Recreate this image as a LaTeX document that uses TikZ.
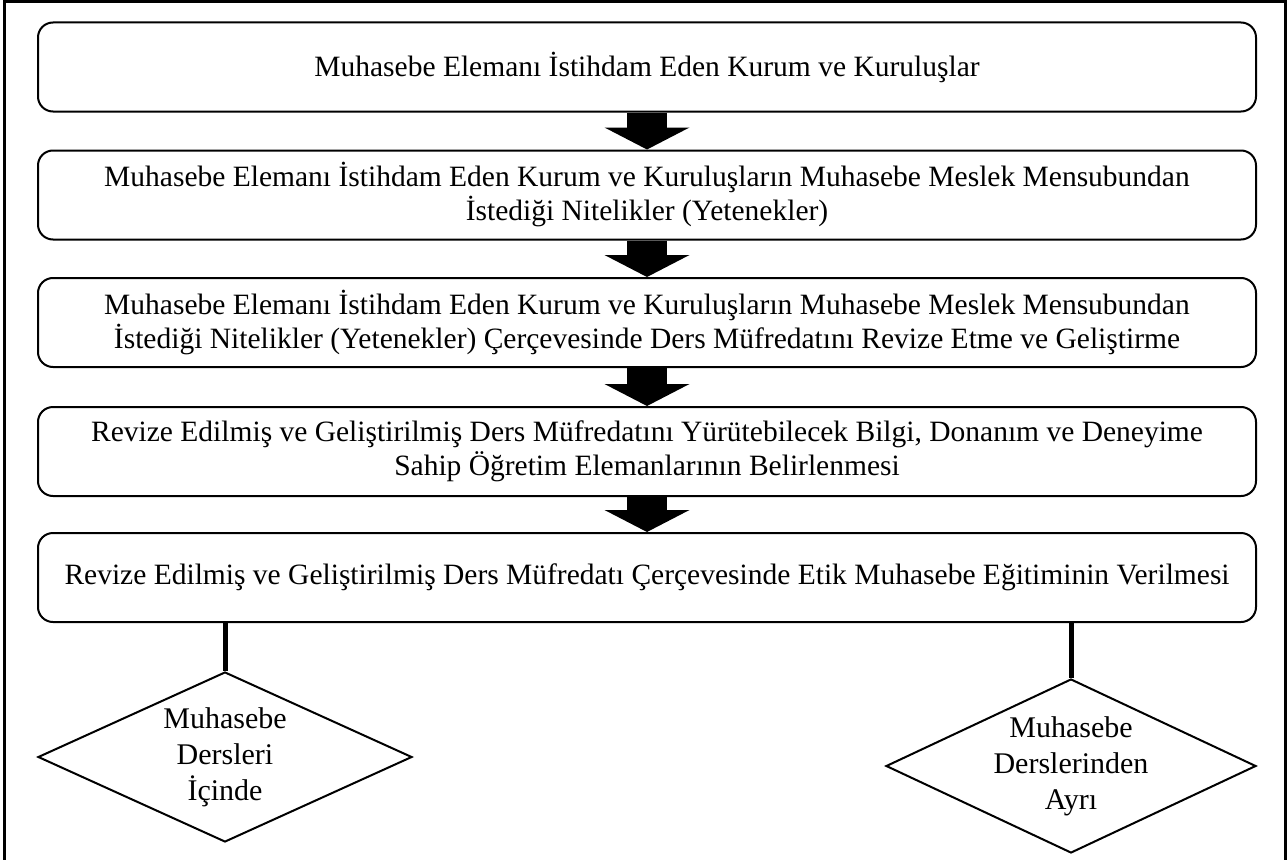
\documentclass[tikz,border=0pt]{standalone}
\usepackage{fontspec}
\setmainfont{Liberation Serif}
\usetikzlibrary{arrows.meta,shapes.geometric}
\begin{document}
\begin{tikzpicture}[x=1pt,y=-1pt,
  stepbox/.style={draw, line width=2pt, rounded corners=15pt,
    minimum width=1218pt, minimum height=89pt, inner sep=0pt,
    align=center, font=\fontsize{29.5}{34}\selectfont},
  flow/.style={line width=40pt,
    -{Triangle[width=85pt,length=22pt,line width=0pt]}},
  stem/.style={line width=5pt},
  choice/.style={draw, diamond, line width=2pt, inner sep=0pt, aspect=2.15,
    align=center, font=\fontsize{30}{36}\selectfont}]

\useasboundingbox (0,0) rectangle (1287,859);
% outer frame
\draw[line width=3pt] (4,870) -- (4,1.5) -- (1285,1.5) -- (1285,870);

\node[stepbox] (b1) at (647,67) {Muhasebe Elemanı İstihdam Eden Kurum ve Kuruluşlar};
\node[stepbox] (b2) at (647,195) {Muhasebe Elemanı İstihdam Eden Kurum ve Kuruluşların Muhasebe Meslek Mensubundan\\İstediği Nitelikler (Yetenekler)};
\node[stepbox] (b3) at (647,322.5) {Muhasebe Elemanı İstihdam Eden Kurum ve Kuruluşların Muhasebe Meslek Mensubundan\\İstediği Nitelikler (Yetenekler) Çerçevesinde Ders Müfredatını Revize Etme ve Geliştirme};
\node[stepbox] (b4) at (647,451.5) {Revize Edilmiş ve Geliştirilmiş Ders Müfredatını Yürütebilecek Bilgi, Donanım ve Deneyime\\Sahip Öğretim Elemanlarının Belirlenmesi};
\node[stepbox] (b5) at (647,577.5) {Revize Edilmiş ve Geliştirilmiş Ders Müfredatı Çerçevesinde Etik Muhasebe Eğitiminin Verilmesi};

\draw[flow] (b1.south) -- (b2.north);
\draw[flow] (b2.south) -- (b3.north);
\draw[flow] (b3.south) -- (b4.north);
\draw[flow] (b4.south) -- (b5.north);

\node[choice, minimum width=374pt, minimum height=170pt] (d1) at (225,757) {Muhasebe\\Dersleri\\İçinde};
\node[choice, minimum width=370pt, minimum height=174pt] (d2) at (1071,766) {Muhasebe\\Derslerinden\\Ayrı};

\draw[stem] (b5.south -| d1.north) -- (d1.north);
\draw[stem] (b5.south -| d2.north) -- (d2.north);
\end{tikzpicture}
\end{document}
